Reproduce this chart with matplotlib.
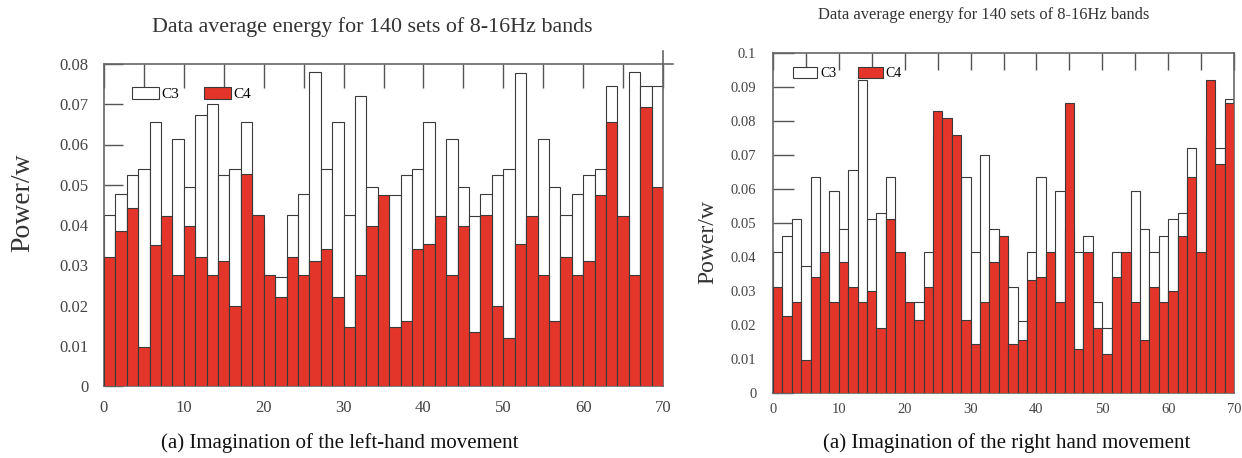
import matplotlib
matplotlib.use("Agg")
import matplotlib.pyplot as plt
import numpy as np

plt.rcParams['font.family'] = ['Liberation Serif', 'DejaVu Serif']

# average power per set, left-hand imagination
left_c3 = [0.0426, 0.0477, 0.0525, 0.0540, 0.0655, 0.0380, 0.0613, 0.0494, 0.0674, 0.0700,
           0.0525, 0.0540, 0.0655, 0.0400, 0.0260, 0.0270, 0.0426, 0.0477, 0.0780, 0.0540,
           0.0655, 0.0426, 0.0720, 0.0494, 0.0450, 0.0475, 0.0525, 0.0540, 0.0655, 0.0400,
           0.0613, 0.0494, 0.0423, 0.0477, 0.0525, 0.0540, 0.0778, 0.0400, 0.0613, 0.0494,
           0.0426, 0.0477, 0.0525, 0.0540, 0.0745, 0.0400, 0.0780, 0.0745, 0.0745]
left_c4 = [0.0320, 0.0386, 0.0442, 0.0097, 0.0350, 0.0423, 0.0275, 0.0397, 0.0320, 0.0275,
           0.0310, 0.0198, 0.0527, 0.0426, 0.0275, 0.0220, 0.0320, 0.0275, 0.0310, 0.0340,
           0.0220, 0.0147, 0.0275, 0.0397, 0.0475, 0.0147, 0.0162, 0.0340, 0.0352, 0.0423,
           0.0275, 0.0397, 0.0135, 0.0426, 0.0198, 0.0120, 0.0352, 0.0423, 0.0275, 0.0162,
           0.0320, 0.0275, 0.0310, 0.0475, 0.0655, 0.0423, 0.0275, 0.0693, 0.0494]

# average power per set, right-hand imagination
right_c3 = [0.0416, 0.0462, 0.0511, 0.0375, 0.0636, 0.0380, 0.0594, 0.0481, 0.0656, 0.0920,
            0.0511, 0.0528, 0.0636, 0.0380, 0.0250, 0.0267, 0.0416, 0.0750, 0.0500, 0.0600,
            0.0636, 0.0416, 0.0700, 0.0481, 0.0440, 0.0313, 0.0213, 0.0416, 0.0636, 0.0380,
            0.0595, 0.0480, 0.0416, 0.0462, 0.0267, 0.0191, 0.0416, 0.0380, 0.0595, 0.0481,
            0.0416, 0.0462, 0.0511, 0.0528, 0.0722, 0.0380, 0.0750, 0.0722, 0.0866]
right_c4 = [0.0311, 0.0227, 0.0267, 0.0096, 0.0342, 0.0416, 0.0267, 0.0386, 0.0311, 0.0267,
            0.0301, 0.0191, 0.0512, 0.0416, 0.0267, 0.0215, 0.0311, 0.0829, 0.0809, 0.0760,
            0.0215, 0.0145, 0.0267, 0.0386, 0.0462, 0.0145, 0.0155, 0.0333, 0.0342, 0.0416,
            0.0267, 0.0854, 0.0130, 0.0416, 0.0191, 0.0115, 0.0342, 0.0416, 0.0267, 0.0155,
            0.0311, 0.0267, 0.0301, 0.0462, 0.0636, 0.0416, 0.0920, 0.0673, 0.0854]

title = "Data average energy for 140 sets of 8-16Hz bands"
captions = ["(a) Imagination of the left-hand movement",
            "(a) Imagination of the right hand movement"]

RED = '#e3352a'
EDGE = '#3a3a3a'
XMAX = 70

fig = plt.figure(figsize=(12.42, 4.58), dpi=100)
W, H = 1242, 458


def px_axes(x0, x1, y0, y1):
    return fig.add_axes([x0 / W, 1 - y1 / H, (x1 - x0) / W, (y1 - y0) / H])


def draw(ax, c3, c4, ymax, fs_tick, tick_top, tick_left, pad_y, pad_x,
         leg_fs, leg_anchor):
    n = len(c3)
    w = XMAX / n
    x = np.arange(n) * w
    ax.bar(x, c3, width=w, align='edge', color='white', edgecolor=EDGE,
           linewidth=0.8, label='C3', zorder=2)
    ax.bar(x, c4, width=w, align='edge', color=RED, edgecolor=EDGE,
           linewidth=0.8, label='C4', zorder=3)
    ax.set_xlim(0, XMAX)
    ax.set_ylim(0, ymax)
    ax.set_axisbelow(True)

    xt = np.arange(0, XMAX + 1, 5)
    ax.set_xticks(xt)
    ax.set_xticklabels([str(v) if v % 10 == 0 else '' for v in xt])
    yt = np.round(np.arange(0, ymax + 1e-9, 0.01), 2)
    ax.set_yticks(yt)
    ax.set_yticklabels(['0' if v == 0 else ('%g' % v) for v in yt])
    ax.tick_params(axis='x', direction='in', bottom=False, top=True,
                   length=tick_top, width=1.0, color='#555555',
                   pad=pad_x, labelsize=fs_tick, labelcolor='#444444')
    ax.tick_params(axis='y', direction='in', length=tick_left, width=1.0,
                   pad=pad_y, labelsize=fs_tick, labelcolor='#444444',
                   color='#555555')
    for s in ax.spines.values():
        s.set_color('#666666')
        s.set_linewidth(1.2)

    ax.legend(loc='upper left', bbox_to_anchor=leg_anchor, ncol=2,
              frameon=False, fontsize=leg_fs, handlelength=1.75,
              handleheight=0.9, handletextpad=0.2, columnspacing=1.6,
              borderpad=0, borderaxespad=0)


# left panel
ax1 = px_axes(104, 663, 64, 386)
draw(ax1, left_c3, left_c4, 0.08, 12, 17, 14, 11, 10, 11, (0.05, 0.93))
ax1.plot([1, 1.018], [1, 1], transform=ax1.transAxes, color='#666666',
         lw=1.2, clip_on=False)
ax1.plot([1, 1], [1, 1.04], transform=ax1.transAxes, color='#666666',
         lw=1.2, clip_on=False)

# right panel
ax2 = px_axes(773, 1234, 53, 393)
draw(ax2, right_c3, right_c4, 0.1, 10.5, 12, 15, 12, 7, 10, (0.043, 0.96))

fig.text(372 / W, 1 - 27 / H, title, ha='center', va='center',
         fontsize=15.8, color='#333333')
fig.text(984 / W, 1 - 15 / H, title, ha='center', va='center',
         fontsize=11.9, color='#333333')

fig.text(23 / W, 1 - 203 / H, 'Power/w', rotation=90, ha='center',
         va='center', fontsize=20, color='#333333')
fig.text(708 / W, 1 - 242 / H, 'Power/w', rotation=90, ha='center',
         va='center', fontsize=17, color='#333333')

fig.text(340 / W, 1 - 443 / H, captions[0], ha='center', va='center',
         fontsize=15, color='#111111')
fig.text(1007 / W, 1 - 443 / H, captions[1], ha='center', va='center',
         fontsize=15, color='#111111')

fig.savefig('out.png', dpi=100)
